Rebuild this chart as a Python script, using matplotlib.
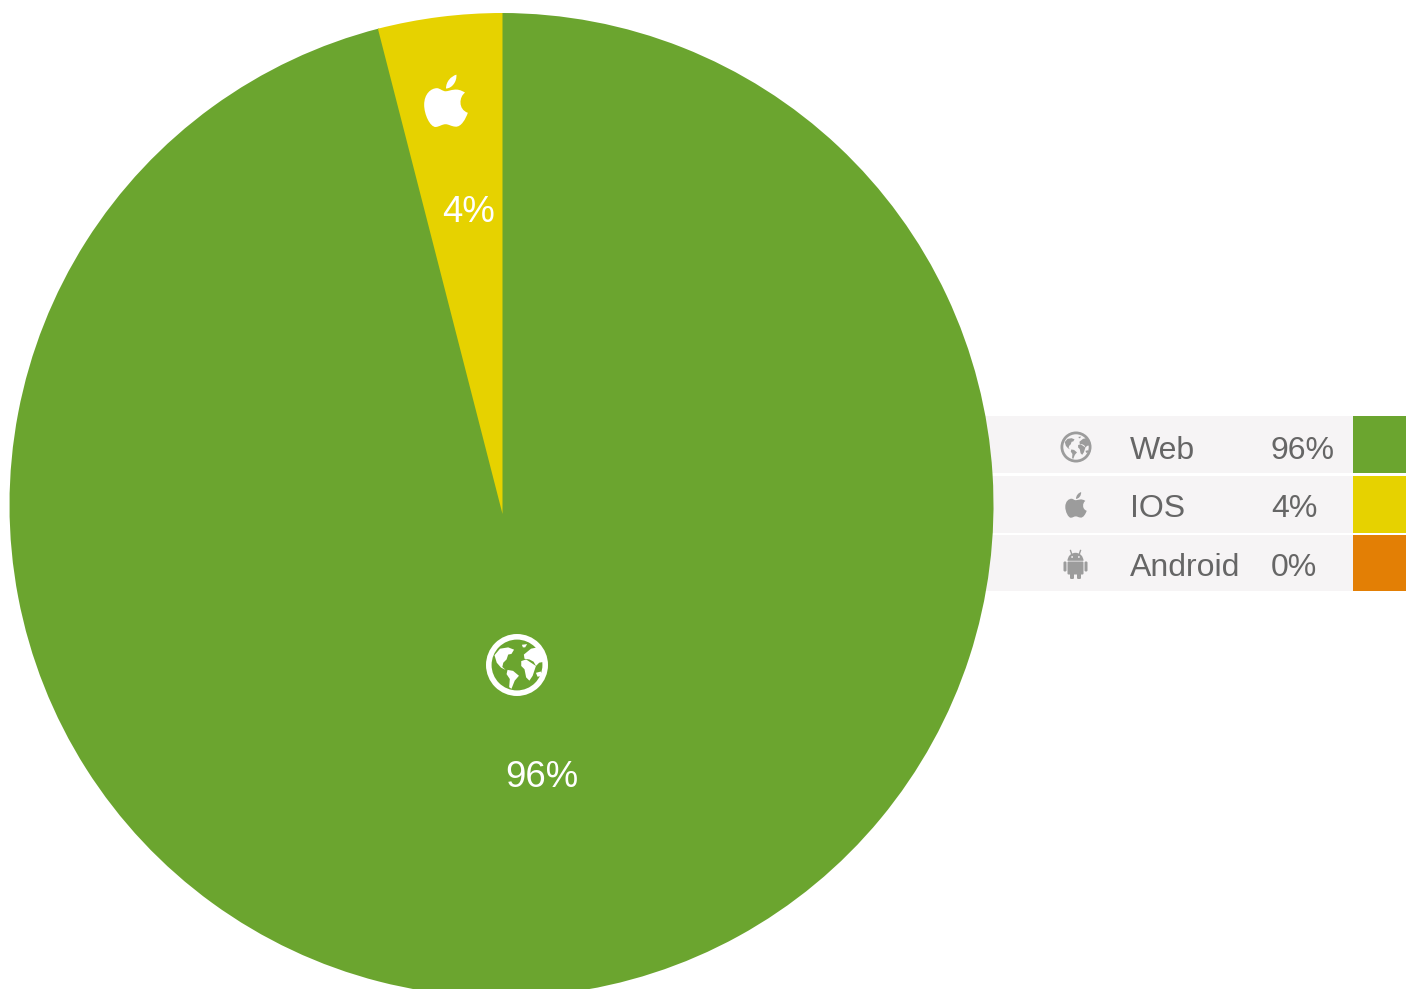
import matplotlib
matplotlib.use("Agg")
import matplotlib.pyplot as plt
from matplotlib.patches import Rectangle, Circle, PathPatch, Polygon, FancyBboxPatch, Wedge
from matplotlib.path import Path

W, H = 1406, 989

categories = ["Web", "IOS", "Android"]
shares = [96, 4, 0]
colors = ["#6ba52f", "#e6d200", "#e37f05"]

plt.rcParams["font.family"] = ["Liberation Sans", "DejaVu Sans"]

GRAY = "#9c9c9c"
TEXT = "#666666"
ROW_BG = "#f6f4f5"


def px(x, y):
    # screen pixels (y down) to axes data
    return x, H - y


def draw_apple(ax, cx, cy, s, color):
    # outline traced in a box of about 125 x 150 units, y down
    M, C, Z = Path.MOVETO, Path.CURVE4, Path.CLOSEPOLY
    body = [
        (137, 93), (152, 92), (168, 80), (193, 97),
        (176, 108), (172, 145), (201, 155),
        (195, 172), (182, 197), (165, 195),
        (152, 194), (146, 188), (137, 188),
        (126, 188), (120, 195), (108, 196),
        (92, 196), (75, 160), (75, 132),
        (75, 100), (95, 84), (112, 84),
        (120, 84), (128, 93), (137, 93),
    ]
    leaf = [
        (138, 85), (138, 65), (152, 50), (168, 45),
        (170, 65), (155, 85), (138, 85),
    ]
    ox, oy = 138, 121
    for pts in (body, leaf):
        verts = [px(cx + (u - ox) * s, cy + (v - oy) * s) for u, v in pts]
        codes = [M] + [C] * (len(pts) - 1)
        verts.append(verts[0])
        codes.append(Z)
        ax.add_patch(PathPatch(Path(verts, codes), fc=color, ec="none", zorder=5))


def draw_globe(ax, cx, cy, r, color, bg):
    x, y = px(cx, cy)
    ax.add_patch(Circle((x, y), r, fc=color, ec="none", zorder=5))
    ax.add_patch(Circle((x, y), r * 0.82, fc=bg, ec="none", zorder=5))
    # rough continents traced on a ring of radius 95 centred on (127, 122), y down
    lands = [
        [(58, 92), (75, 72), (100, 68), (118, 75), (110, 88), (100, 90), (95, 105),
         (85, 115), (82, 128), (92, 137), (78, 130), (65, 115)],
        [(98, 137), (115, 140), (133, 155), (120, 170), (110, 195), (103, 190), (105, 165), (95, 150)],
        [(140, 110), (155, 105), (170, 115), (185, 125), (175, 155), (165, 170), (155, 160), (150, 135), (140, 125)],
        [(148, 90), (170, 72), (190, 68), (205, 90), (211, 112), (195, 115), (185, 125), (178, 112), (165, 105), (150, 103)],
        [(185, 146), (200, 142), (205, 155), (190, 158)],
        [(142, 60), (158, 58), (152, 68), (145, 68)],
    ]
    for land in lands:
        pts = [px(cx + (u - 127) / 95 * r, cy + (v - 122) / 95 * r) for u, v in land]
        ax.add_patch(Polygon(pts, closed=True, fc=color, ec="none", zorder=6))


def draw_android(ax, cx, cy, s, color, bg):
    def box(x0, y0, w, h, rad=1.2):
        xx, yy = px(cx + x0 * s, cy + (y0 + h) * s)
        ax.add_patch(FancyBboxPatch((xx, yy), w * s, h * s, boxstyle=f"round,pad=0,rounding_size={rad}",
                                    fc=color, ec="none", zorder=5))
    box(-8, -4.5, 16, 13, 1)
    box(-12, -4.5, 3, 10)
    box(9, -4.5, 3, 10)
    box(-5.5, 7, 4, 6)
    box(1.5, 7, 4, 6)
    # head is a half disc above the body
    x, y = px(cx, cy - 5.2 * s)
    ax.add_patch(Wedge((x, y), 8 * s, 0, 180, fc=color, ec="none", zorder=5))
    for side in (-1, 1):
        ax.plot(*zip(px(cx + side * 3.5 * s, cy - 11 * s), px(cx + side * 5 * s, cy - 15.5 * s)),
                color=color, lw=1.0, zorder=5)
        ex, ey = px(cx + side * 3.4 * s, cy - 9 * s)
        ax.add_patch(Circle((ex, ey), 0.9 * s, fc=bg, ec="none", zorder=6))


fig = plt.figure(figsize=(W / 100, H / 100), dpi=100, facecolor="white")
ax = fig.add_axes([0, 0, 1, 1])

wedges, _ = ax.pie(shares, colors=colors, startangle=90, counterclock=False,
                   center=px(501.5, 505), radius=492, frame=False,
                   wedgeprops={"linewidth": 0, "zorder": 3})
# the small slice sits slightly lower with its own radius in the original
wedges[1].set_center(px(502.5, 514))
wedges[1].set_radius(501)
ax.set_xlim(0, W)
ax.set_ylim(0, H)
ax.set_aspect("equal")
ax.axis("off")

# labels on the slices, baseline positions
label_pos = [(542, 787), (468.5, 222.5)]
for share, (lx, ly) in zip(shares, label_pos):
    x, y = px(lx, ly)
    ax.text(x, y, f"{share}%", color="white", fontsize=26.3, ha="center", va="baseline", zorder=6)

draw_globe(ax, 517, 665, 31, "white", colors[0])
draw_apple(ax, 446, 101, 1 / 3 * 1.04, "white")

# legend rows
row_tops = [416, 476, 535]
row_bottoms = [473, 533, 591]
row_baselines = [459, 517, 576.5]
for i, name in enumerate(categories):
    top, bottom = row_tops[i], row_bottoms[i]
    x, y = px(960, bottom)
    ax.add_patch(Rectangle((x, y), 393, bottom - top, fc=ROW_BG, ec="none", zorder=1))
    x, y = px(1353, bottom)
    ax.add_patch(Rectangle((x, y), 53, bottom - top, fc=colors[i], ec="none", zorder=1))
    x, y = px(1130, row_baselines[i])
    ax.text(x, y, name, color=TEXT, fontsize=23, ha="left", va="baseline", zorder=4)
    x, y = px(1271, row_baselines[i])
    ax.text(x, y, f"{shares[i]}%", color=TEXT, fontsize=23, ha="left", va="baseline", zorder=4)

draw_globe(ax, 1076, 447, 15.5, GRAY, ROW_BG)
draw_apple(ax, 1076, 505, 0.17, GRAY)
draw_android(ax, 1075.5, 566, 1.0, GRAY, ROW_BG)

fig.savefig("out.png", dpi=100)
